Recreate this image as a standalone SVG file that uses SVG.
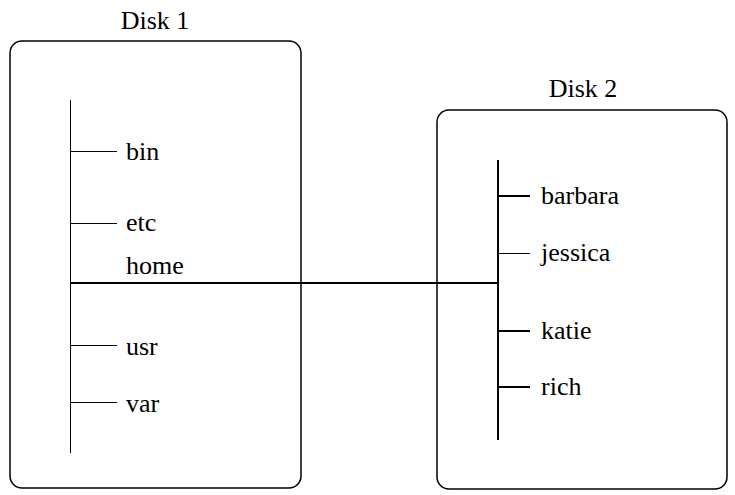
<svg xmlns="http://www.w3.org/2000/svg" width="735" height="495" viewBox="0 0 735 495">
<style>
.box{fill:none;stroke:#000;stroke-width:1.5}
.ln{stroke:#000;stroke-width:1;fill:none}
.lnb{stroke:#000;stroke-width:2;fill:none}
</style>
<rect width="735" height="495" fill="#fff"/>
<g id="disk1">
<rect class="box" x="10" y="41" width="291" height="447" rx="12"/>
<text x="155" y="29" text-anchor="middle" font-family="Liberation Serif, serif" font-size="26">Disk 1</text>
<line class="ln" x1="70.5" y1="100" x2="70.5" y2="453"/>
<line class="ln" x1="70" y1="151.5" x2="117" y2="151.5"/>
<text x="126" y="160" font-family="Liberation Serif, serif" font-size="26">bin</text>
<line class="ln" x1="70" y1="223.5" x2="117" y2="223.5"/>
<text x="126" y="231" font-family="Liberation Serif, serif" font-size="26">etc</text>
<text x="126" y="274" font-family="Liberation Serif, serif" font-size="26">home</text>
<line class="ln" x1="70" y1="345.5" x2="117" y2="345.5"/>
<text x="126" y="355" font-family="Liberation Serif, serif" font-size="26">usr</text>
<line class="ln" x1="70" y1="402.5" x2="117" y2="402.5"/>
<text x="126" y="412" font-family="Liberation Serif, serif" font-size="26">var</text>
</g>
<g id="disk2">
<rect class="box" x="437" y="110" width="290" height="379" rx="12"/>
<text x="583" y="97" text-anchor="middle" font-family="Liberation Serif, serif" font-size="26">Disk 2</text>
<line class="lnb" x1="498" y1="160" x2="498" y2="440"/>
<line class="lnb" x1="498" y1="196" x2="530" y2="196"/>
<text x="541" y="204" font-family="Liberation Serif, serif" font-size="26">barbara</text>
<line class="ln" x1="498" y1="253.5" x2="530" y2="253.5"/>
<text x="541" y="261" font-family="Liberation Serif, serif" font-size="26">jessica</text>
<line class="lnb" x1="498" y1="331" x2="530" y2="331"/>
<text x="541" y="339" font-family="Liberation Serif, serif" font-size="26">katie</text>
<line class="lnb" x1="498" y1="387" x2="530" y2="387"/>
<text x="541" y="395" font-family="Liberation Serif, serif" font-size="26">rich</text>
</g>
<g id="connectors">
<line class="lnb" x1="70" y1="283" x2="498" y2="283"/>
</g>
</svg>
